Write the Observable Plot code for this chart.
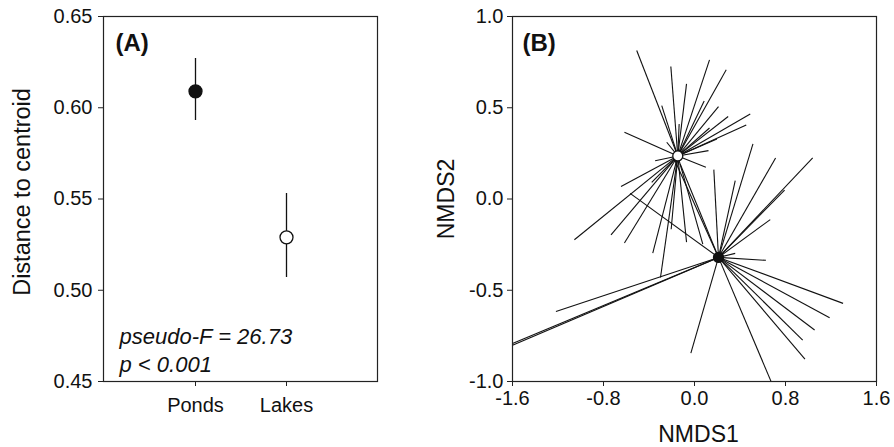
<!DOCTYPE html>
<html>
<head>
<meta charset="utf-8">
<script src="https://cdn.jsdelivr.net/npm/d3@7"></script>
<script src="https://cdn.jsdelivr.net/npm/@observablehq/plot@0.6"></script>
<style>
  html, body { margin: 0; padding: 0; background: white; }
  #wrap { position: relative; width: 894px; height: 447px; overflow: hidden; background: white; }
  #a, #b { position: absolute; top: 0; }
  #a { left: 0; z-index: 1; }
  #b { left: 440px; z-index: 2; }
  svg { overflow: visible; }
</style>
</head>
<body>
<div id="wrap"><div id="a"></div><div id="b"></div></div>
<script>
// ---- Panel A data ----
const categories = ["Ponds", "Lakes"];
const meanDist = [0.609, 0.529];
const lowerDist = [0.593, 0.507];
const upperDist = [0.627, 0.553];
const yTicksA = [0.45, 0.50, 0.55, 0.60, 0.65];

// ---- Panel B data ----
const centroidGroups = ["Ponds", "Lakes"];
const centroidX = [0.211, -0.147];
const centroidY = [-0.320, 0.236];

const lakesX = [-0.508, -0.208, -0.070, 0.132, 0.279, 0.085, -0.288, 0.211, 0.296, 0.490,
                0.455, 0.132, 0.197, -0.135, -0.616, 0.123, 0.100, -0.244, -0.346, -0.646,
                -1.056, -0.734, -0.616, -0.367, -0.299, -0.205, -0.070, 0.073, -0.376];
const lakesY = [0.814, 0.726, 0.631, 0.762, 0.708, 0.537, 0.512, 0.506, 0.452, 0.466,
                0.406, 0.389, 0.329, 0.411, 0.366, 0.265, 0.174, 0.311, 0.210, 0.068,
                -0.223, -0.196, -0.241, -0.296, -0.430, -0.166, -0.236, -0.247, 0.091];

const pondsX = [0.514, 0.713, 1.039, 0.792, 0.666, 0.358, 0.170, 0.358, 0.628, -0.566,
                -0.185, -1.600, -1.600, -1.218, 1.306, 1.188, 1.056, 0.951, 0.971, 0.672,
                -0.032, -0.126];
const pondsY = [0.302, 0.225, 0.225, 0.049, -0.113, 0.101, 0.161, -0.298, -0.336, 0.031,
                0.229, -0.792, -0.801, -0.616, -0.572, -0.651, -0.718, -0.773, -0.877, -0.998,
                -0.845, 0.192];

const xTicksB = [-1.6, -0.8, 0, 0.8, 1.6];
const yTicksB = [-1.0, -0.5, 0, 0.5, 1.0];

const FONT = "'Liberation Sans', Arial, Helvetica, sans-serif";

// ---- Panel A ----
const tableA = categories.map((c, i) => ({cat: c, mean: meanDist[i], lo: lowerDist[i], hi: upperDist[i]}));

const plotA = Plot.plot({
  width: 440, height: 447,
  marginLeft: 103, marginRight: 63, marginTop: 16, marginBottom: 66,
  style: {fontFamily: FONT, fontSize: "20px", background: "transparent", color: "#111", overflow: "visible"},
  x: {type: "point", domain: categories, padding: 1, axis: null},
  y: {domain: [0.45, 0.65], axis: null},
  marks: [
    Plot.frame({stroke: "#222", strokeWidth: 1.2}),
    Plot.axisY({ticks: yTicksA, tickSize: 5, tickPadding: 6, tickFormat: d => d.toFixed(2), label: null, stroke: "#222"}),
    Plot.axisX({tickSize: 5, tickPadding: 11, label: null, stroke: "#222"}),
    Plot.ruleX(tableA, {x: "cat", y1: "lo", y2: "hi", stroke: "#111", strokeWidth: 1.3}),
    Plot.dot(tableA, {x: "cat", y: "mean", r: 6.5, stroke: "#111", strokeWidth: 1.3,
                      fill: d => d.cat === "Ponds" ? "#111" : "white"}),
    Plot.text(["(A)"], {frameAnchor: "top-left", dx: 12, dy: 17, lineAnchor: "top", textAnchor: "start",
                        fontWeight: "bold", fontSize: 24, fill: "#111"}),
    Plot.text(["pseudo-F = 26.73\np < 0.001"], {frameAnchor: "bottom-left", dx: 16, dy: -10, lineAnchor: "bottom",
                        textAnchor: "start", fontStyle: "italic", fontSize: 22, lineHeight: 1.23, fill: "#111"}),
    Plot.text(["Distance to centroid"], {frameAnchor: "left", dx: -81, dy: -7, rotate: -90,
                        textAnchor: "middle", lineAnchor: "middle", fontSize: 23.5, fill: "#111"})
  ]
});
document.getElementById("a").appendChild(plotA);

// ---- Panel B ----
const cLookup = Object.fromEntries(centroidGroups.map((g, i) => [g, {x: centroidX[i], y: centroidY[i]}]));
const spokes = [
  ...lakesX.map((x, i) => ({g: "Lakes", x1: cLookup.Lakes.x, y1: cLookup.Lakes.y, x2: x, y2: lakesY[i]})),
  ...pondsX.map((x, i) => ({g: "Ponds", x1: cLookup.Ponds.x, y1: cLookup.Ponds.y, x2: x, y2: pondsY[i]}))
];
const centroids = centroidGroups.map((g, i) => ({g, x: centroidX[i], y: centroidY[i]}));

const plotB = Plot.plot({
  width: 454, height: 447,
  marginLeft: 72, marginRight: 18, marginTop: 16, marginBottom: 66,
  style: {fontFamily: FONT, fontSize: "20px", background: "transparent", color: "#111", overflow: "visible"},
  x: {domain: [-1.6, 1.6], axis: null},
  y: {domain: [-1, 1], axis: null},
  marks: [
    Plot.link(spokes, {x1: "x1", y1: "y1", x2: "x2", y2: "y2", stroke: "#111", strokeWidth: 1.1, clip: true}),
    Plot.frame({stroke: "#222", strokeWidth: 1.2}),
    Plot.axisY({ticks: yTicksB, tickSize: 5, tickPadding: 4, tickFormat: d => d.toFixed(1), label: null, stroke: "#222"}),
    Plot.axisX({ticks: xTicksB, tickSize: 5, tickPadding: 4, tickFormat: d => d.toFixed(1), label: null, stroke: "#222"}),
    Plot.dot(centroids, {x: "x", y: "y", r: 5, stroke: "#111", strokeWidth: 1.3,
                         fill: d => d.g === "Ponds" ? "#111" : "white"}),
    Plot.text(["(B)"], {frameAnchor: "top-left", dx: 10, dy: 17, lineAnchor: "top", textAnchor: "start",
                        fontWeight: "bold", fontSize: 24, fill: "#111"}),
    Plot.text(["NMDS1"], {frameAnchor: "bottom", dx: 4, dy: 53, lineAnchor: "middle", fontSize: 23, fill: "#111"}),
    Plot.text(["NMDS2"], {frameAnchor: "left", dx: -66, rotate: -90, lineAnchor: "middle",
                          textAnchor: "middle", fontSize: 23, fill: "#111"})
  ]
});
document.getElementById("b").appendChild(plotB);
</script>
</body>
</html>
